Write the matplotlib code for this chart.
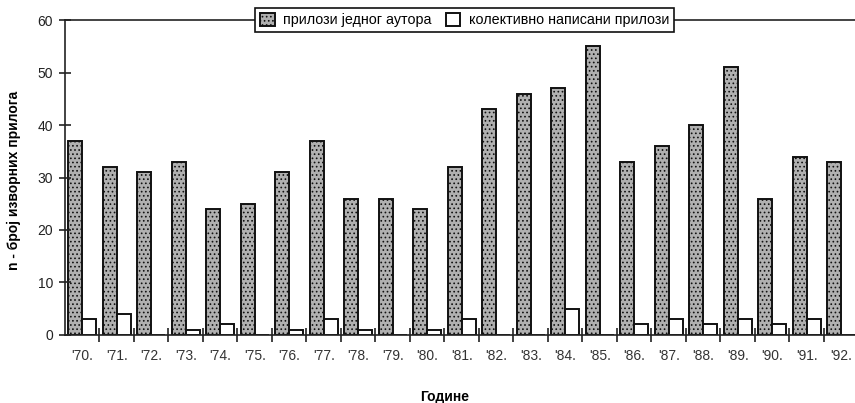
import numpy as np
import matplotlib
matplotlib.use("Agg")
import matplotlib.pyplot as plt

plt.rcParams['font.family'] = ['Liberation Sans', 'DejaVu Sans']
plt.rcParams['hatch.color'] = '#7a7a7a'
plt.rcParams['hatch.linewidth'] = 0.7

years = ["'70.", "'71.", "'72.", "'73.", "'74.", "'75.", "'76.", "'77.", "'78.", "'79.", "'80.",
         "'81.", "'82.", "'83.", "'84.", "'85.", "'86.", "'87.", "'88.", "'89.", "'90.", "'91.", "'92."]
single_author = [37, 32, 31, 33, 24, 25, 31, 37, 26, 26, 24, 32, 43, 46, 47, 55, 33, 36, 40, 51, 26, 34, 33]
collective = [3, 4, 0, 1, 2, 0, 1, 3, 1, 0, 1, 3, 0, 0, 5, 0, 2, 3, 2, 3, 2, 3, 0]

x = np.arange(len(years))
w = 0.4

fig = plt.figure(figsize=(8.55, 4.03), dpi=100)
ax = fig.add_axes([0.076, 0.169, 0.924, 0.781])

ax.bar(x - w / 2, single_author, w, color='#b0b0b0', edgecolor='#111111', linewidth=1.4,
       hatch='....', label='прилози једног аутора')
ax.bar(x + w / 2, collective, w, color='white', edgecolor='#111111', linewidth=1.4,
       label='колективно написани прилози')

ax.set_xlim(-0.5, 22.4)
ax.set_ylim(0, 60)
ax.set_yticks([0, 10, 20, 30, 40, 50, 60])
ax.set_xticks(x)
ax.set_xticklabels(years)
ax.set_xticks(x[:-1] + 0.5, minor=True)

ax.tick_params(axis='y', direction='inout', length=9, width=1.2, labelsize=10, colors='#222222', pad=4)
ax.tick_params(axis='x', which='major', length=0, labelsize=10, labelcolor='#333333', pad=10)
ax.tick_params(axis='x', which='minor', direction='inout', length=10, width=1.2, color='#222222')

ax.spines['right'].set_visible(False)
for s in ['left', 'bottom', 'top']:
    ax.spines[s].set_linewidth(1.2)
    ax.spines[s].set_color('#222222')

ax.set_ylabel('n - број изворних прилога', fontsize=10, fontweight='bold')
ax.yaxis.set_label_coords(-0.056, 0.49)
ax.set_xlabel('Године', fontsize=10, fontweight='bold')
ax.xaxis.set_label_coords(0.48, -0.175)

leg = ax.legend(loc='center', bbox_to_anchor=(0.506, 1.0), ncol=2, frameon=True, fancybox=False,
                edgecolor='#111111', fontsize=10.3, handlelength=1.0, handleheight=1.0,
                handletextpad=0.6, columnspacing=1.0, borderpad=0.35, framealpha=1)
leg.get_frame().set_linewidth(1.2)

fig.savefig('out.png', dpi=100)
